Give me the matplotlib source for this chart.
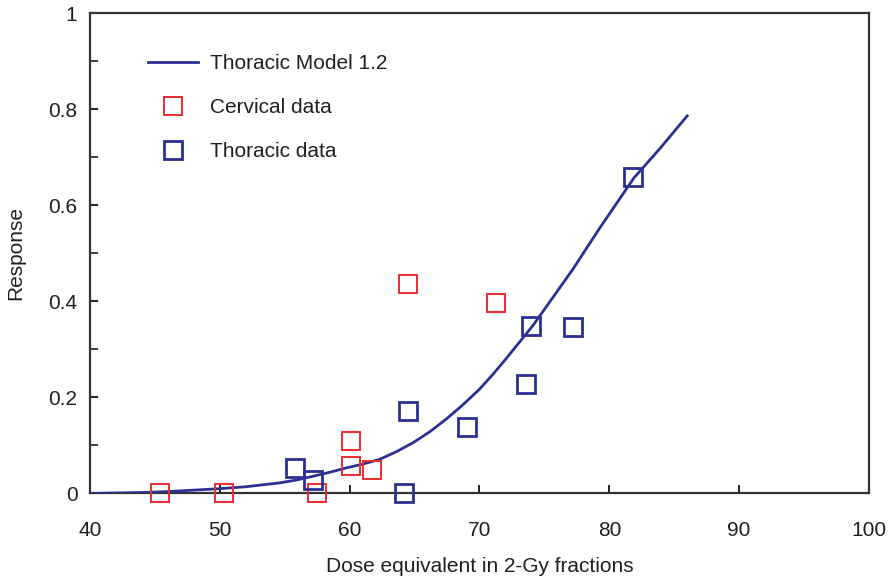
import matplotlib
matplotlib.use("Agg")
import matplotlib.pyplot as plt
from matplotlib.ticker import MultipleLocator

plt.rcParams['font.family'] = ['Liberation Sans', 'DejaVu Sans']

# Thoracic model curve
model_dose = [40, 42, 44, 46, 48, 50, 52, 54.6, 55.9, 57.2, 58.45, 59.7, 61.0, 62.3, 63.6,
              64.9, 66.15, 67.4, 68.7, 70.0, 71.0, 72.0, 74.1, 77.2, 79.2, 81.9, 83.9, 86.0]
model_resp = [0.0, 0.001, 0.002, 0.004, 0.007, 0.010, 0.014, 0.022, 0.028, 0.036, 0.044, 0.053,
              0.061, 0.071, 0.087, 0.106, 0.128, 0.154, 0.184, 0.217, 0.247, 0.279, 0.349,
              0.467, 0.55, 0.657, 0.718, 0.786]

# Cervical observations
cerv_dose = [45.4, 50.3, 57.5, 60.1, 60.1, 61.7, 64.5, 71.3]
cerv_resp = [0.0, 0.0, 0.0, 0.110, 0.058, 0.048, 0.435, 0.396]

# Thoracic observations
thor_dose = [55.8, 57.2, 64.2, 64.5, 69.0, 73.6, 74.0, 77.2, 81.8]
thor_resp = [0.054, 0.029, 0.0, 0.171, 0.138, 0.227, 0.348, 0.346, 0.658]

navy = '#2b3192'
red = '#ee2a2e'
ink = '#231f20'
fs = 15

fig = plt.figure(figsize=(8.91, 5.79), dpi=100)
ax = fig.add_axes([0.101, 0.1477, 0.8743, 0.8298])

ax.plot(model_dose, model_resp, color=navy, lw=2.0, label='Thoracic Model 1.2', zorder=3)
ax.plot(cerv_dose, cerv_resp, ls='none', marker='s', ms=12.3, mfc='none', mec=red, mew=1.4,
        label='Cervical data', zorder=4, clip_on=False)
ax.plot(thor_dose, thor_resp, ls='none', marker='s', ms=12.3, mfc='none', mec=navy, mew=2.0,
        label='Thoracic data', zorder=4, clip_on=False)

ax.set_xlim(40, 100)
ax.set_ylim(0, 1)
ax.set_xticks([40, 50, 60, 70, 80, 90, 100])
ax.set_yticks([0, 0.2, 0.4, 0.6, 0.8, 1])
ax.set_yticklabels(['0', '0.2', '0.4', '0.6', '0.8', '1'])
ax.yaxis.set_minor_locator(MultipleLocator(0.1))

for s in ax.spines.values():
    s.set_color('#333333')
    s.set_linewidth(1.6)

ax.tick_params(axis='both', which='both', direction='in', colors=ink,
               top=False, right=False, labelsize=fs)
ax.tick_params(axis='x', which='major', length=6, width=1.4, pad=20)
ax.tick_params(axis='y', which='major', length=6, width=1.4, pad=9)
ax.tick_params(axis='y', which='minor', length=6, width=1.2)

ax.set_xlabel('Dose equivalent in 2-Gy fractions', fontsize=fs, color=ink, labelpad=12)
ax.set_ylabel('Response', fontsize=fs, color=ink, labelpad=17)

leg = ax.legend(loc='upper left', bbox_to_anchor=(0.0745, 0.914), frameon=False,
                fontsize=fs, handlelength=2.4, handletextpad=0.58, labelspacing=1.2,
                borderaxespad=0, borderpad=0)
for t in leg.get_texts():
    t.set_color(ink)

fig.savefig('out.png', dpi=100, facecolor='white')
